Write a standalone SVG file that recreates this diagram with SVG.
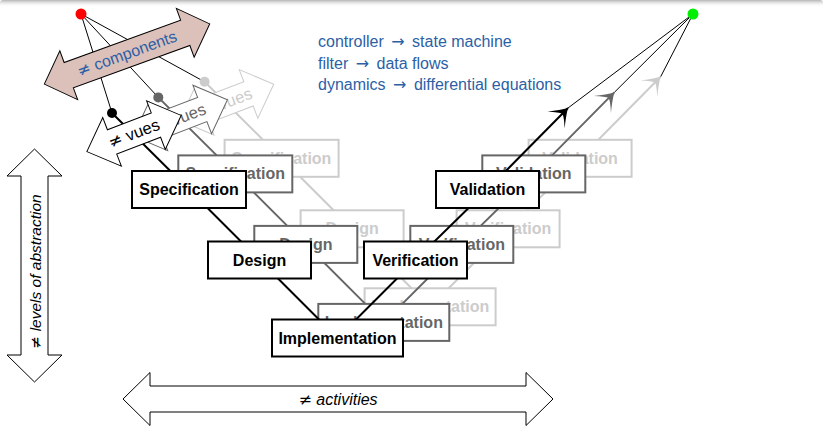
<svg xmlns="http://www.w3.org/2000/svg" width="831" height="426" viewBox="0 0 831 426">
  <defs>
    <style>
      text { font-family: "Liberation Sans", Arial, "DejaVu Sans", sans-serif; }
      .sym { font-family: "DejaVu Sans", sans-serif; font-style: normal; }
      .lbl { font-size: 16px; font-weight: bold; text-anchor: middle; }
      .box { fill: #ffffff; stroke-width: 2; }
      .vline { fill: none; stroke-width: 2; stroke-linejoin: round; }
      .thin { fill: none; stroke: #000000; stroke-width: 1; }
      .big { fill: #ffffff; stroke: #000000; stroke-width: 1; }
      .axis { font-size: 16px; font-style: italic; text-anchor: middle; fill: #000000; }
      .vue { fill: #ffffff; stroke-width: 1; }
      .vuetxt { font-size: 16.5px; text-anchor: middle; }
      .note { font-size: 16px; fill: #2d5fa5; }
      .front .box, .front .vline, .front .vue { stroke: #000000; }
      .front text, .front .dot { fill: #000000; }
      .mid .box, .mid .vline, .mid .vue { stroke: #666666; }
      .mid text, .mid .dot { fill: #666666; }
      .back .box, .back .vline, .back .vue { stroke: #cccccc; }
      .back text, .back .dot { fill: #cccccc; }
    </style>
    <linearGradient id="topShade" x1="0" y1="0" x2="0" y2="1">
      <stop offset="0" stop-color="#b5b5b5"/>
      <stop offset="1" stop-color="#ffffff" stop-opacity="0"/>
    </linearGradient>
    <marker id="headFront" viewBox="-18 -13 19 26" refX="0" refY="0" markerWidth="19" markerHeight="26" markerUnits="userSpaceOnUse" orient="auto">
      <path d="M0,0 Q-7,-4 -17,-12 Q-9,-3.5 -8,0 Q-9,3.5 -17,12 Q-7,4 0,0 Z" fill="#000000"/>
    </marker>
    <marker id="headMid" viewBox="-18 -13 19 26" refX="0" refY="0" markerWidth="19" markerHeight="26" markerUnits="userSpaceOnUse" orient="auto">
      <path d="M0,0 Q-7,-4 -17,-12 Q-9,-3.5 -8,0 Q-9,3.5 -17,12 Q-7,4 0,0 Z" fill="#666666"/>
    </marker>
    <marker id="headBack" viewBox="-18 -13 19 26" refX="0" refY="0" markerWidth="19" markerHeight="26" markerUnits="userSpaceOnUse" orient="auto">
      <path d="M0,0 Q-7,-4 -17,-12 Q-9,-3.5 -8,0 Q-9,3.5 -17,12 Q-7,4 0,0 Z" fill="#cccccc"/>
    </marker>
    <!-- double-headed block arrow used for the "vues" tags -->
    <path id="vueShape" d="M-50.5,0 L-23.5,-26 L-23.5,-13 L23.5,-13 L23.5,-26 L50.5,0 L23.5,26 L23.5,13 L-23.5,13 L-23.5,26 Z"/>
  </defs>

  <rect width="831" height="426" fill="#ffffff"/>
  <!-- headline shadow -->
  <rect x="0" y="0" width="823" height="7" rx="3" fill="url(#topShade)"/>

  <!-- axes -->
  <g id="axis-abstraction">
    <path class="big" d="M34.5,149 L62,176 L48,176 L48,355 L62,355 L34.5,382 L7,355 L21,355 L21,176 L7,176 Z"/>
    <text class="axis" transform="translate(40.5,271.5) rotate(-90)" style="font-size:15.5px"><tspan class="sym">≠</tspan> levels of abstraction</text>
  </g>
  <g id="axis-activities">
    <path class="big" d="M123,399 L150,372.5 L150,386 L526,386 L526,372.5 L553,399 L526,425.5 L526,412 L150,412 L150,425.5 Z"/>
    <text class="axis" x="338" y="404.5"><tspan class="sym">≠</tspan> activities</text>
  </g>

  <!-- model kinds -->
  <g id="notes">
    <text class="note" x="318" y="47">controller <tspan class="sym" dx="3">→</tspan><tspan dx="3"> state machine</tspan></text>
    <text class="note" x="318" y="68.5">filter <tspan class="sym" dx="3">→</tspan><tspan dx="3"> data flows</tspan></text>
    <text class="note" x="318" y="90">dynamics <tspan class="sym" dx="3">→</tspan><tspan dx="3"> differential equations</tspan></text>
  </g>

  <!-- fan-out lines from the component and target points -->
  <g id="connectors-fan">
    <line class="thin" x1="81" y1="14" x2="112" y2="113"/>
    <line class="thin" x1="81" y1="14" x2="158.3" y2="97.4"/>
    <line class="thin" x1="81" y1="14" x2="204.6" y2="81.8"/>
    <line class="thin" x1="693" y1="14" x2="568" y2="108"/>
    <line class="thin" x1="693" y1="14" x2="614.3" y2="92.4"/>
    <line class="thin" x1="693" y1="14" x2="660.6" y2="76.8"/>
  </g>

  <g id="components" transform="translate(127,54) rotate(-20)">
    <path d="M-88,0 L-62,-26 L-62,-13.5 L62,-13.5 L62,-26 L88,0 L62,26 L62,13.5 L-62,13.5 L-62,26 Z" fill="#dbc1ba" stroke="#000000" stroke-width="1"/>
    <text x="0" y="5" text-anchor="middle" style="font-size:16px" fill="#2d5fa5"><tspan class="sym">≠</tspan> components</text>
  </g>

  <g id="source-point"><circle cx="81" cy="14" r="5.5" fill="#ff0000"/></g>
  <g id="target-point"><circle cx="693" cy="14" r="5.5" fill="#00ee00"/></g>

  <!-- back V -->
  <g id="layer-back" class="back" transform="translate(92.6,-31.2)">
    <g id="connectors-back">
      <polyline class="vline" points="112,113 189,189.5 259.5,260 337.5,338 415.5,260 487.5,189.5 568,108" marker-end="url(#headBack)"/>
    </g>
    <g id="back-specification"><rect class="box" x="132" y="171" width="114" height="37"/><text class="lbl" x="189" y="195">Specification</text></g>
    <g id="back-design"><rect class="box" x="208" y="241.5" width="103" height="37"/><text class="lbl" x="259.5" y="265.5">Design</text></g>
    <g id="back-implementation"><rect class="box" x="272" y="319.5" width="131" height="37"/><text class="lbl" x="337.5" y="343.5">Implementation</text></g>
    <g id="back-verification"><rect class="box" x="364" y="241.5" width="103" height="37"/><text class="lbl" x="415.5" y="265.5">Verification</text></g>
    <g id="back-validation"><rect class="box" x="436" y="171" width="103" height="37"/><text class="lbl" x="487.5" y="195">Validation</text></g>
    <g id="back-vues" transform="translate(134,133.5) rotate(-21)"><use href="#vueShape" class="vue"/><text class="vuetxt" x="0" y="5.5"><tspan class="sym">≠</tspan> vues</text></g>
    <g id="back-point"><circle class="dot" cx="112" cy="113" r="5"/></g>
  </g>

  <!-- middle V -->
  <g id="layer-mid" class="mid" transform="translate(46.3,-15.6)">
    <g id="connectors-mid">
      <polyline class="vline" points="112,113 189,189.5 259.5,260 337.5,338 415.5,260 487.5,189.5 568,108" marker-end="url(#headMid)"/>
    </g>
    <g id="mid-specification"><rect class="box" x="132" y="171" width="114" height="37"/><text class="lbl" x="189" y="195">Specification</text></g>
    <g id="mid-design"><rect class="box" x="208" y="241.5" width="103" height="37"/><text class="lbl" x="259.5" y="265.5">Design</text></g>
    <g id="mid-implementation"><rect class="box" x="272" y="319.5" width="131" height="37"/><text class="lbl" x="337.5" y="343.5">Implementation</text></g>
    <g id="mid-verification"><rect class="box" x="364" y="241.5" width="103" height="37"/><text class="lbl" x="415.5" y="265.5">Verification</text></g>
    <g id="mid-validation"><rect class="box" x="436" y="171" width="103" height="37"/><text class="lbl" x="487.5" y="195">Validation</text></g>
    <g id="mid-vues" transform="translate(134,133.5) rotate(-21)"><use href="#vueShape" class="vue"/><text class="vuetxt" x="0" y="5.5"><tspan class="sym">≠</tspan> vues</text></g>
    <g id="mid-point"><circle class="dot" cx="112" cy="113" r="5"/></g>
  </g>

  <!-- front V -->
  <g id="layer-front" class="front">
    <g id="connectors-front">
      <polyline class="vline" points="112,113 189,189.5 259.5,260 337.5,338 415.5,260 487.5,189.5 568,108" marker-end="url(#headFront)"/>
    </g>
    <g id="specification"><rect class="box" x="132" y="171" width="114" height="37"/><text class="lbl" x="189" y="195">Specification</text></g>
    <g id="design"><rect class="box" x="208" y="241.5" width="103" height="37"/><text class="lbl" x="259.5" y="265.5">Design</text></g>
    <g id="implementation"><rect class="box" x="272" y="319.5" width="131" height="37"/><text class="lbl" x="337.5" y="343.5">Implementation</text></g>
    <g id="verification"><rect class="box" x="364" y="241.5" width="103" height="37"/><text class="lbl" x="415.5" y="265.5">Verification</text></g>
    <g id="validation"><rect class="box" x="436" y="171" width="103" height="37"/><text class="lbl" x="487.5" y="195">Validation</text></g>
    <g id="vues" transform="translate(134,133.5) rotate(-21)"><use href="#vueShape" class="vue"/><text class="vuetxt" x="0" y="5.5"><tspan class="sym">≠</tspan> vues</text></g>
    <g id="front-point"><circle class="dot" cx="112" cy="113" r="5"/></g>
  </g>
</svg>
